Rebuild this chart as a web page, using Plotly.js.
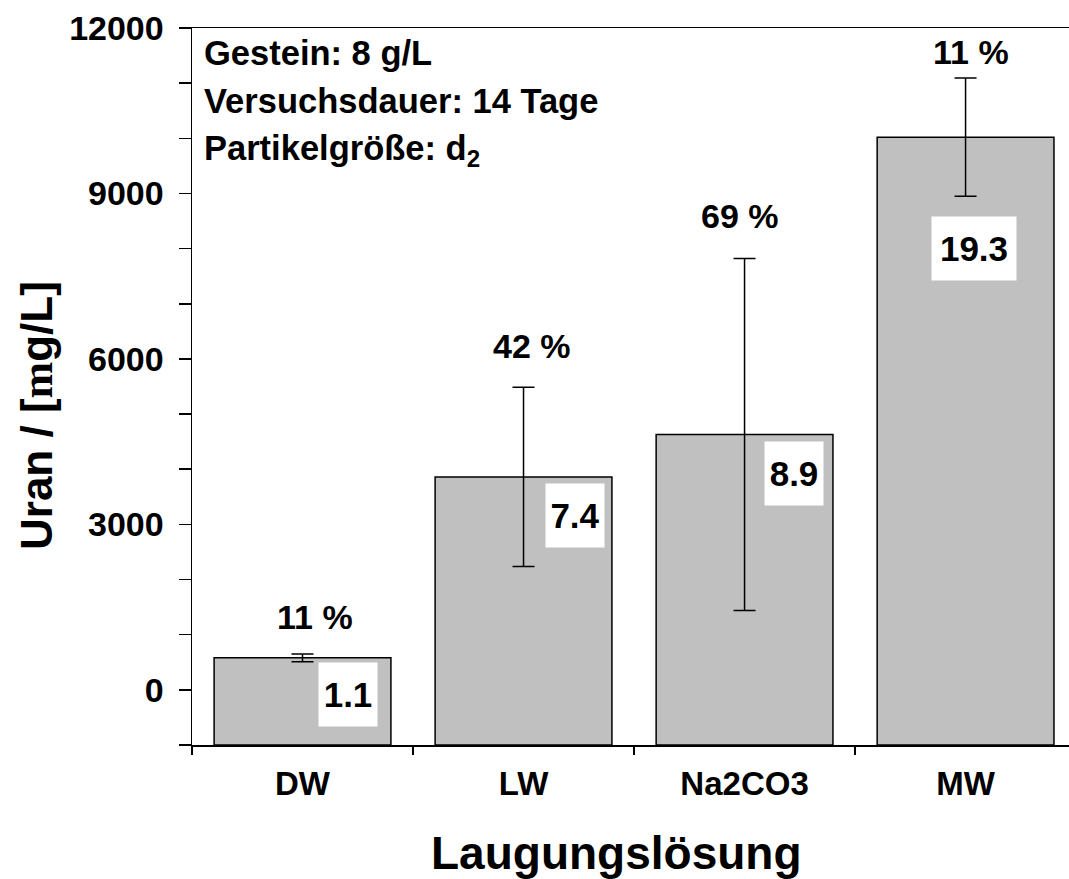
<!DOCTYPE html>
<html>
<head>
<meta charset="utf-8">
<script src="https://cdn.plot.ly/plotly-3.0.1.min.js"></script>
<style>html,body{margin:0;padding:0;background:#fff;}</style>
</head>
<body>
<div id="chart" style="width:1069px;height:879px;"></div>
<script>
// ---- data ----
const categories = ['DW', 'LW', 'Na2CO3', 'MW'];
const uran = [580, 3860, 4630, 10020];          // µg/L
const uranErr = [70, 1625, 3190, 1072];
const pctText = ['11 %', '42 %', '69 %', '11 %'];
const ratioText = ['1.1', '7.4', '8.9', '19.3'];
const infoLines = ['Gestein: 8 g/L', 'Versuchsdauer: 14 Tage', 'Partikelgröße: d<sub>2</sub>'];
const yTicks = [0, 3000, 6000, 9000, 12000];

// label placement (offsets from category centre, y in data units)
const pctDx = [0.055, 0.038, -0.02, 0.024];
const pctY = [1320, 6230, 8600, 11560];
const ratioDx = [0.206, 0.233, 0.224, 0.038];
const ratioY = [-80, 3160, 3920, 8000];
const ratioW = [58, 58, 58, 84];

const yBase = -1000;
const FONT = 'Liberation Sans, Arial, sans-serif';

const bars = {
  type: 'bar',
  x: categories,
  y: uran.map(v => v - yBase),
  base: yBase,
  width: 0.8,
  marker: {color: '#c0c0c0', line: {color: '#000', width: 1.5}},
  hoverinfo: 'skip',
  showlegend: false
};

const errs = {
  type: 'scatter',
  mode: 'markers',
  x: categories,
  y: uran,
  marker: {size: 1, color: 'rgba(0,0,0,0)'},
  error_y: {type: 'data', array: uranErr, visible: true, color: '#000', thickness: 1.5, width: 11},
  hoverinfo: 'skip',
  showlegend: false
};

const annotations = [];
categories.forEach((c, i) => {
  annotations.push({
    xref: 'x', yref: 'y', x: i + pctDx[i], y: pctY[i],
    text: pctText[i], showarrow: false, xanchor: 'center', yanchor: 'middle',
    font: {family: FONT, size: 34, color: '#000', weight: 'bold'}
  });
  annotations.push({
    xref: 'x', yref: 'y', x: i + ratioDx[i], y: ratioY[i],
    text: ratioText[i], showarrow: false, xanchor: 'center', yanchor: 'middle',
    bgcolor: '#fff', borderpad: 0, width: ratioW[i], height: 63,
    font: {family: FONT, size: 35, color: '#000', weight: 'bold'}
  });
});
const infoY = [0.9658, 0.8975, 0.8298];
infoLines.forEach((t, i) => {
  annotations.push({
    xref: 'paper', yref: 'paper', x: 0.0114, y: infoY[i],
    text: t, showarrow: false, xanchor: 'left', yanchor: 'middle',
    font: {family: FONT, size: 34.5, color: '#000', weight: 'bold'}
  });
});
// axis titles
annotations.push({
  xref: 'paper', yref: 'paper', x: -0.1767, y: 0.4589, textangle: -90,
  text: "Uran / [<span style='font-family:Liberation Serif'>m</span>g/L]",
  showarrow: false, xanchor: 'center', yanchor: 'middle',
  font: {family: FONT, size: 44, color: '#000', weight: 'bold'}
});
annotations.push({
  xref: 'paper', yref: 'paper', x: 0.4835, y: -0.1506,
  text: 'Laugungslösung', showarrow: false, xanchor: 'center', yanchor: 'middle',
  font: {family: FONT, size: 46, color: '#000', weight: 'bold'}
});

const layout = {
  width: 1069, height: 879,
  margin: {l: 192, r: 0, t: 28, b: 134},
  paper_bgcolor: '#fff', plot_bgcolor: '#fff',
  font: {family: FONT, color: '#000', weight: 'bold'},
  showlegend: false,
  xaxis: {
    type: 'category', range: [-0.5, 3.468],
    tickson: 'boundaries', ticks: 'outside', ticklen: 8, tickwidth: 1.5, tickcolor: '#000',
    showline: true, linecolor: '#000', linewidth: 1.5, mirror: true,
    showgrid: false, zeroline: false,
    tickfont: {family: FONT, size: 33, color: '#000', weight: 'bold'},
    ticklabelstandoff: 9,
    fixedrange: true
  },
  xaxis2: {
    overlaying: 'x', anchor: 'y', side: 'bottom', type: 'linear',
    range: [-0.5, 3.468], tickvals: [-0.5, 0.5, 1.5, 2.5],
    ticks: 'inside', ticklen: 8, tickwidth: 1.5, tickcolor: '#000',
    showticklabels: false, showline: false, showgrid: false, zeroline: false
  },
  yaxis: {
    range: [-1000, 12000], tickvals: yTicks, ticktext: yTicks.map(String),
    ticks: 'outside', ticklen: 12, tickwidth: 1.5, tickcolor: '#000',
    minor: {tickmode: 'linear', tick0: 0, dtick: 1000, ticks: 'outside', ticklen: 12, tickwidth: 1.5, tickcolor: '#000', showgrid: false},
    showline: true, linecolor: '#000', linewidth: 1.5,
    showgrid: false, zeroline: false,
    tickfont: {family: FONT, size: 34, color: '#000', weight: 'bold'},
    ticklabelstandoff: 8,
    fixedrange: true
  },
  annotations: annotations,
  bargap: 0.2
};

Plotly.newPlot('chart', [bars, errs], layout, {displayModeBar: false, staticPlot: true});
</script>
</body>
</html>
